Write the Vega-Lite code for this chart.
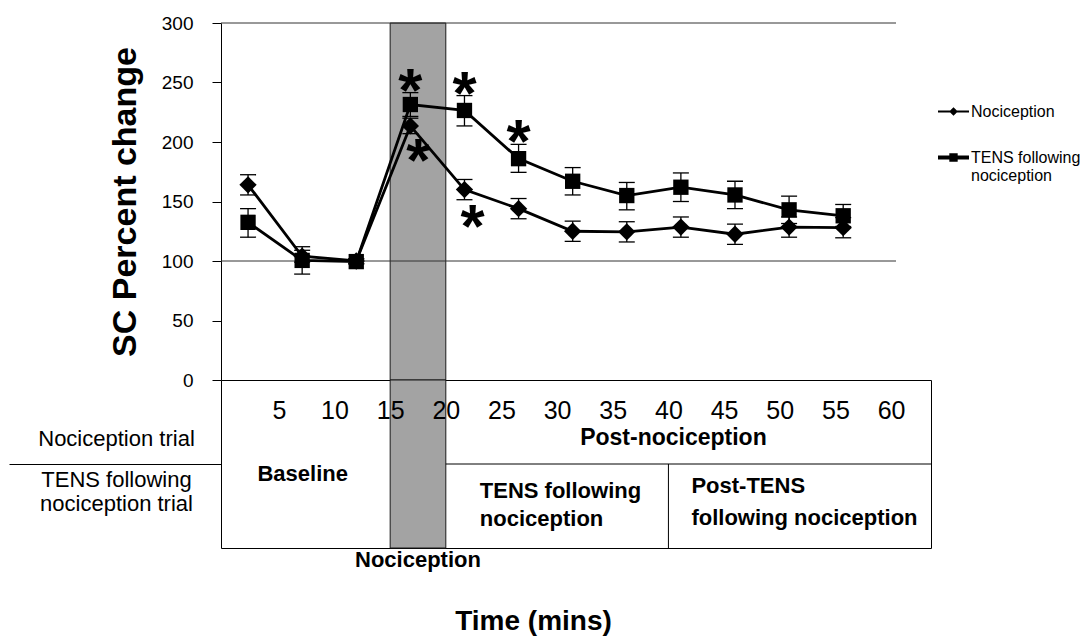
{
  "$schema": "https://vega.github.io/schema/vega-lite/v6.json",
  "autosize": {"type": "pad"},
  "padding": {"left": 8, "top": 14, "right": 4, "bottom": 8},
  "background": "white",
  "spacing": 0,
  "bounds": "flush",
  "config": {
    "font": "Liberation Sans, Arial, sans-serif",
    "view": {"stroke": null},
    "axis": {"domainColor": "black", "tickColor": "black", "labelColor": "black", "titleColor": "black"}
  },
  "title": {
    "text": "Time (mins)",
    "orient": "bottom",
    "anchor": "middle",
    "frame": "bounds",
    "font": "Liberation Sans, Arial, sans-serif",
    "fontSize": 28,
    "fontWeight": "bold",
    "color": "black",
    "offset": 36,
    "dx": -11
  },
  "datasets": {
    "sc": [
      {"min": 2.5, "series": "Nociception", "mean": 164, "lo": 155.5, "hi": 172.5, "sig": ""},
      {"min": 7.5, "series": "Nociception", "mean": 104, "lo": 99, "hi": 109, "sig": ""},
      {"min": 12.5, "series": "Nociception", "mean": 100, "lo": 98, "hi": 102, "sig": ""},
      {"min": 17.5, "series": "Nociception", "mean": 213.5, "lo": 207, "hi": 220, "sig": "below"},
      {"min": 22.5, "series": "Nociception", "mean": 160, "lo": 151.5, "hi": 168.5, "sig": "below"},
      {"min": 27.5, "series": "Nociception", "mean": 144, "lo": 135.5, "hi": 152.5, "sig": ""},
      {"min": 32.5, "series": "Nociception", "mean": 125, "lo": 116.5, "hi": 133.5, "sig": ""},
      {"min": 37.5, "series": "Nociception", "mean": 124.5, "lo": 116, "hi": 133, "sig": ""},
      {"min": 42.5, "series": "Nociception", "mean": 128.5, "lo": 120, "hi": 137, "sig": ""},
      {"min": 47.5, "series": "Nociception", "mean": 122.5, "lo": 114, "hi": 131, "sig": ""},
      {"min": 52.5, "series": "Nociception", "mean": 128.5, "lo": 120, "hi": 137, "sig": ""},
      {"min": 57.5, "series": "Nociception", "mean": 128, "lo": 119.5, "hi": 136.5, "sig": ""},
      {"min": 2.5, "series": "TENS following nociception", "mean": 132.5, "lo": 120, "hi": 144, "sig": ""},
      {"min": 7.5, "series": "TENS following nociception", "mean": 100.5, "lo": 89, "hi": 112, "sig": ""},
      {"min": 12.5, "series": "TENS following nociception", "mean": 99.5, "lo": 97.5, "hi": 101.5, "sig": ""},
      {"min": 17.5, "series": "TENS following nociception", "mean": 231.5, "lo": 221.5, "hi": 241.5, "sig": "above"},
      {"min": 22.5, "series": "TENS following nociception", "mean": 226.5, "lo": 213.5, "hi": 239, "sig": "above"},
      {"min": 27.5, "series": "TENS following nociception", "mean": 186, "lo": 174.5, "hi": 198, "sig": "above"},
      {"min": 32.5, "series": "TENS following nociception", "mean": 167, "lo": 155.5, "hi": 178.5, "sig": ""},
      {"min": 37.5, "series": "TENS following nociception", "mean": 155, "lo": 143, "hi": 166, "sig": ""},
      {"min": 42.5, "series": "TENS following nociception", "mean": 162, "lo": 150, "hi": 174, "sig": ""},
      {"min": 47.5, "series": "TENS following nociception", "mean": 155.5, "lo": 144, "hi": 167, "sig": ""},
      {"min": 52.5, "series": "TENS following nociception", "mean": 143, "lo": 131.5, "hi": 154.5, "sig": ""},
      {"min": 57.5, "series": "TENS following nociception", "mean": 138, "lo": 129, "hi": 147.5, "sig": ""}
    ],
    "phases": [
      {"phase": "Baseline", "label": "Baseline", "trial": "both", "start": 0, "end": 15},
      {"phase": "Nociception", "label": "Nociception", "trial": "both", "start": 15, "end": 20},
      {"phase": "Post-nociception", "label": "Post-nociception", "trial": "Nociception trial", "start": 20, "end": 60},
      {"phase": "TENS", "label": "TENS following\nnociception", "trial": "TENS following nociception trial", "start": 20, "end": 40},
      {"phase": "Post-TENS", "label": "Post-TENS\nfollowing nociception", "trial": "TENS following nociception trial", "start": 40, "end": 60}
    ],
    "refs": [{"level": 100}, {"level": 300}]
  },
  "vconcat": [
    {
      "width": 675,
      "height": 357,
      "resolve": {"scale": {"x": "independent"}},
      "layer": [
        {
          "data": {"name": "phases"},
          "transform": [{"filter": "datum.phase == 'Nociception'"}],
          "mark": {"type": "rect", "fill": "#a3a3a3", "stroke": "#1a1a1a", "strokeWidth": 1},
          "encoding": {
            "x": {"field": "start", "type": "quantitative", "scale": {"domain": [-0.198, 60.45], "nice": false, "zero": false}, "axis": null},
            "x2": {"field": "end"}
          }
        },
        {
          "data": {"name": "refs"},
          "mark": {"type": "rule", "color": "#333333", "strokeWidth": 1},
          "encoding": {
            "y": {"field": "level", "type": "quantitative", "title": "SC Percent change"}
          }
        },
        {
          "data": {"name": "sc"},
          "encoding": {
            "x": {"field": "min", "type": "quantitative", "scale": {"domain": [0, 62.38], "nice": false, "zero": false}, "axis": null}
          },
          "layer": [
            {
              "mark": {"type": "rule", "color": "black", "strokeWidth": 1.3},
              "encoding": {
                "y": {
                  "field": "lo", "type": "quantitative", "title": "SC Percent change",
                  "scale": {"domain": [0, 300], "nice": false, "zero": true},
                  "axis": {
                    "values": [0, 50, 100, 150, 200, 250, 300],
                    "grid": false,
                    "domain": true, "domainColor": "black", "domainWidth": 1,
                    "ticks": true, "tickSize": 9, "tickWidth": 1, "tickColor": "black",
                    "labelFont": "Liberation Sans, Arial, sans-serif",
                    "labelFontSize": 19, "labelPadding": 19, "labelColor": "black",
                    "titleFont": "Liberation Sans, Arial, sans-serif",
                    "titleFontSize": 34, "titleFontWeight": "bold", "titlePadding": 19, "titleColor": "black"
                  }
                },
                "y2": {"field": "hi"}
              }
            },
            {
              "mark": {"type": "tick", "orient": "horizontal", "color": "black", "size": 16, "thickness": 1.3, "opacity": 1},
              "encoding": {"y": {"field": "lo", "type": "quantitative", "title": "SC Percent change"}}
            },
            {
              "mark": {"type": "tick", "orient": "horizontal", "color": "black", "size": 16, "thickness": 1.3, "opacity": 1},
              "encoding": {"y": {"field": "hi", "type": "quantitative", "title": "SC Percent change"}}
            },
            {
              "mark": {"type": "line", "color": "black", "strokeWidth": 2.8},
              "encoding": {
                "y": {"field": "mean", "type": "quantitative", "title": "SC Percent change"},
                "detail": {"field": "series"}
              }
            },
            {
              "transform": [{"filter": "datum.series == 'Nociception'"}],
              "mark": {"type": "point", "shape": "diamond", "filled": true, "color": "black", "size": 300, "opacity": 1},
              "encoding": {"y": {"field": "mean", "type": "quantitative", "title": "SC Percent change"}}
            },
            {
              "transform": [{"filter": "datum.series != 'Nociception'"}],
              "mark": {"type": "point", "shape": "square", "filled": true, "color": "black", "size": 235, "opacity": 1},
              "encoding": {"y": {"field": "mean", "type": "quantitative", "title": "SC Percent change"}}
            },
            {
              "transform": [{"filter": "datum.sig == 'above'"}],
              "mark": {"type": "text", "text": "*", "font": "Liberation Sans, Arial, sans-serif", "fontSize": 62, "fontWeight": "bold", "baseline": "middle", "align": "center", "dy": -1, "color": "black"},
              "encoding": {"y": {"field": "hi", "type": "quantitative", "title": "SC Percent change"}}
            },
            {
              "transform": [{"filter": "datum.sig == 'below'"}],
              "mark": {"type": "text", "text": "*", "font": "Liberation Sans, Arial, sans-serif", "fontSize": 62, "fontWeight": "bold", "baseline": "middle", "align": "center", "dx": 8, "dy": 28, "color": "black"},
              "encoding": {"y": {"field": "lo", "type": "quantitative", "title": "SC Percent change"}}
            },
            {
              "transform": [{"filter": "datum.min < 0"}],
              "mark": {"type": "point", "filled": true, "color": "black"},
              "encoding": {
                "shape": {
                  "field": "series", "type": "nominal",
                  "scale": {
                    "domain": ["Nociception", "TENS following nociception"],
                    "range": [
                      "M-1,-0.07H1V0.07H-1Z M0,-0.28L0.28,0L0,0.28L-0.28,0Z",
                      "M-1,-0.13H1V0.13H-1Z M-0.27,-0.27H0.27V0.27H-0.27Z"
                    ]
                  },
                  "legend": {
                    "orient": "none",
                    "legendX": 717,
                    "legendY": 73,
                    "title": null,
                    "padding": 0,
                    "symbolSize": 961,
                    "symbolFillColor": "black",
                    "symbolStrokeColor": "black",
                    "symbolStrokeWidth": 0,
                    "symbolOpacity": 1,
                    "labelFont": "Liberation Sans, Arial, sans-serif",
                    "labelFontSize": 16,
                    "labelColor": "black",
                    "labelOffset": 2,
                    "labelLimit": 0,
                    "rowPadding": 22,
                    "labelExpr": "datum.label == 'TENS following nociception' ? ['TENS following', 'nociception'] : datum.label"
                  }
                }
              }
            }
          ]
        }
      ]
    },
    {
      "width": 710,
      "height": 168,
      "view": {"stroke": "black", "strokeWidth": 1},
      "data": {"name": "phases"},
      "layer": [
        {
          "transform": [{"filter": "datum.phase == 'Nociception'"}],
          "mark": {"type": "rect", "fill": "#a3a3a3", "stroke": "#1a1a1a", "strokeWidth": 1},
          "encoding": {
            "x": {
              "field": "start", "type": "quantitative",
              "scale": {"domain": [-0.198, 63.59], "nice": false, "zero": false},
              "axis": {
                "orient": "top",
                "values": [5, 10, 15, 20, 25, 30, 35, 40, 45, 50, 55, 60],
                "ticks": false, "domain": false, "grid": false,
                "labelFont": "Liberation Sans, Arial, sans-serif",
                "labelFontSize": 25, "labelPadding": -30, "labelBaseline": "middle",
                "labelColor": "black", "labelFlush": false, "labelOverlap": false,
                "title": null, "zindex": 1
              }
            },
            "x2": {"field": "end"}
          }
        },
        {
          "transform": [{"filter": "datum.phase == 'TENS'"}],
          "mark": {"type": "rule", "color": "black", "strokeWidth": 1},
          "encoding": {
            "x": {"field": "start", "type": "quantitative"},
            "x2": {"value": "width"},
            "y": {
              "field": "trial", "type": "nominal", "bandPosition": 0,
              "scale": {"type": "band", "domain": ["Nociception trial", "TENS following nociception trial"], "paddingInner": 0, "paddingOuter": 0},
              "axis": {
                "title": null, "domain": false,
                "ticks": true, "tickSize": 212, "tickWidth": 1, "tickColor": "black",
                "bandPosition": 1, "tickExtra": false,
                "tickOpacity": {"condition": {"test": "datum.value == 'Nociception trial'", "value": 1}, "value": 0},
                "labelFont": "Liberation Sans, Arial, sans-serif",
                "labelFontSize": 22, "labelColor": "black",
                "labelAlign": "center", "labelBaseline": "middle",
                "labelPadding": -107, "labelLimit": 0,
                "labelOffset": {"condition": {"test": "datum.value == 'Nociception trial'", "value": 17}, "value": -26},
                "labelExpr": "datum.value == 'TENS following nociception trial' ? ['TENS following', 'nociception trial'] : datum.value"
              }
            }
          }
        },
        {
          "transform": [{"filter": "datum.phase == 'Post-TENS'"}],
          "mark": {"type": "rule", "color": "black", "strokeWidth": 1},
          "encoding": {
            "x": {"field": "start", "type": "quantitative"},
            "y": {"field": "trial", "type": "nominal", "bandPosition": 0, "scale": {"type": "band"}},
            "y2": {"value": "height"}
          }
        },
        {
          "transform": [
            {"filter": "datum.phase == 'Post-nociception'"},
            {"fold": ["start", "end"], "as": ["edge", "t"]}
          ],
          "mark": {"type": "text", "font": "Liberation Sans, Arial, sans-serif", "fontSize": 23, "fontWeight": "bold", "baseline": "middle", "align": "center", "dx": 5, "dy": 16, "color": "black"},
          "encoding": {
            "x": {"aggregate": "mean", "field": "t", "type": "quantitative"},
            "y": {"field": "trial", "type": "nominal", "scale": {"type": "band"}},
            "text": {"field": "label"}
          }
        },
        {
          "transform": [
            {"filter": "datum.phase == 'Baseline'"},
            {"fold": ["start", "end"], "as": ["edge", "t"]}
          ],
          "mark": {"type": "text", "font": "Liberation Sans, Arial, sans-serif", "fontSize": 22, "fontWeight": "bold", "baseline": "middle", "align": "center", "dx": -4, "dy": -32, "color": "black"},
          "encoding": {
            "x": {"aggregate": "mean", "field": "t", "type": "quantitative"},
            "y": {"datum": "TENS following nociception trial", "type": "nominal", "scale": {"type": "band"}},
            "text": {"field": "label"}
          }
        },
        {
          "transform": [
            {"filter": "datum.phase == 'Nociception'"},
            {"fold": ["start", "end"], "as": ["edge", "t"]}
          ],
          "mark": {"type": "text", "font": "Liberation Sans, Arial, sans-serif", "fontSize": 22, "fontWeight": "bold", "baseline": "middle", "align": "center", "dy": 12, "color": "black"},
          "encoding": {
            "x": {"aggregate": "mean", "field": "t", "type": "quantitative"},
            "y": {"value": "height"},
            "text": {"field": "label"}
          }
        },
        {
          "transform": [{"filter": "datum.phase == 'TENS'"}],
          "mark": {"type": "text", "font": "Liberation Sans, Arial, sans-serif", "fontSize": 22, "fontWeight": "bold", "baseline": "middle", "align": "left", "dx": 34, "dy": -15, "lineBreak": "\n", "lineHeight": 28, "color": "black"},
          "encoding": {
            "x": {"field": "start", "type": "quantitative"},
            "y": {"field": "trial", "type": "nominal", "scale": {"type": "band"}},
            "text": {"field": "label"}
          }
        },
        {
          "transform": [{"filter": "datum.phase == 'Post-TENS'"}],
          "mark": {"type": "text", "font": "Liberation Sans, Arial, sans-serif", "fontSize": 22, "fontWeight": "bold", "baseline": "middle", "align": "left", "dx": 23, "dy": -20, "lineBreak": "\n", "lineHeight": 32, "color": "black"},
          "encoding": {
            "x": {"field": "start", "type": "quantitative"},
            "y": {"field": "trial", "type": "nominal", "scale": {"type": "band"}},
            "text": {"field": "label"}
          }
        }
      ]
    }
  ]
}
